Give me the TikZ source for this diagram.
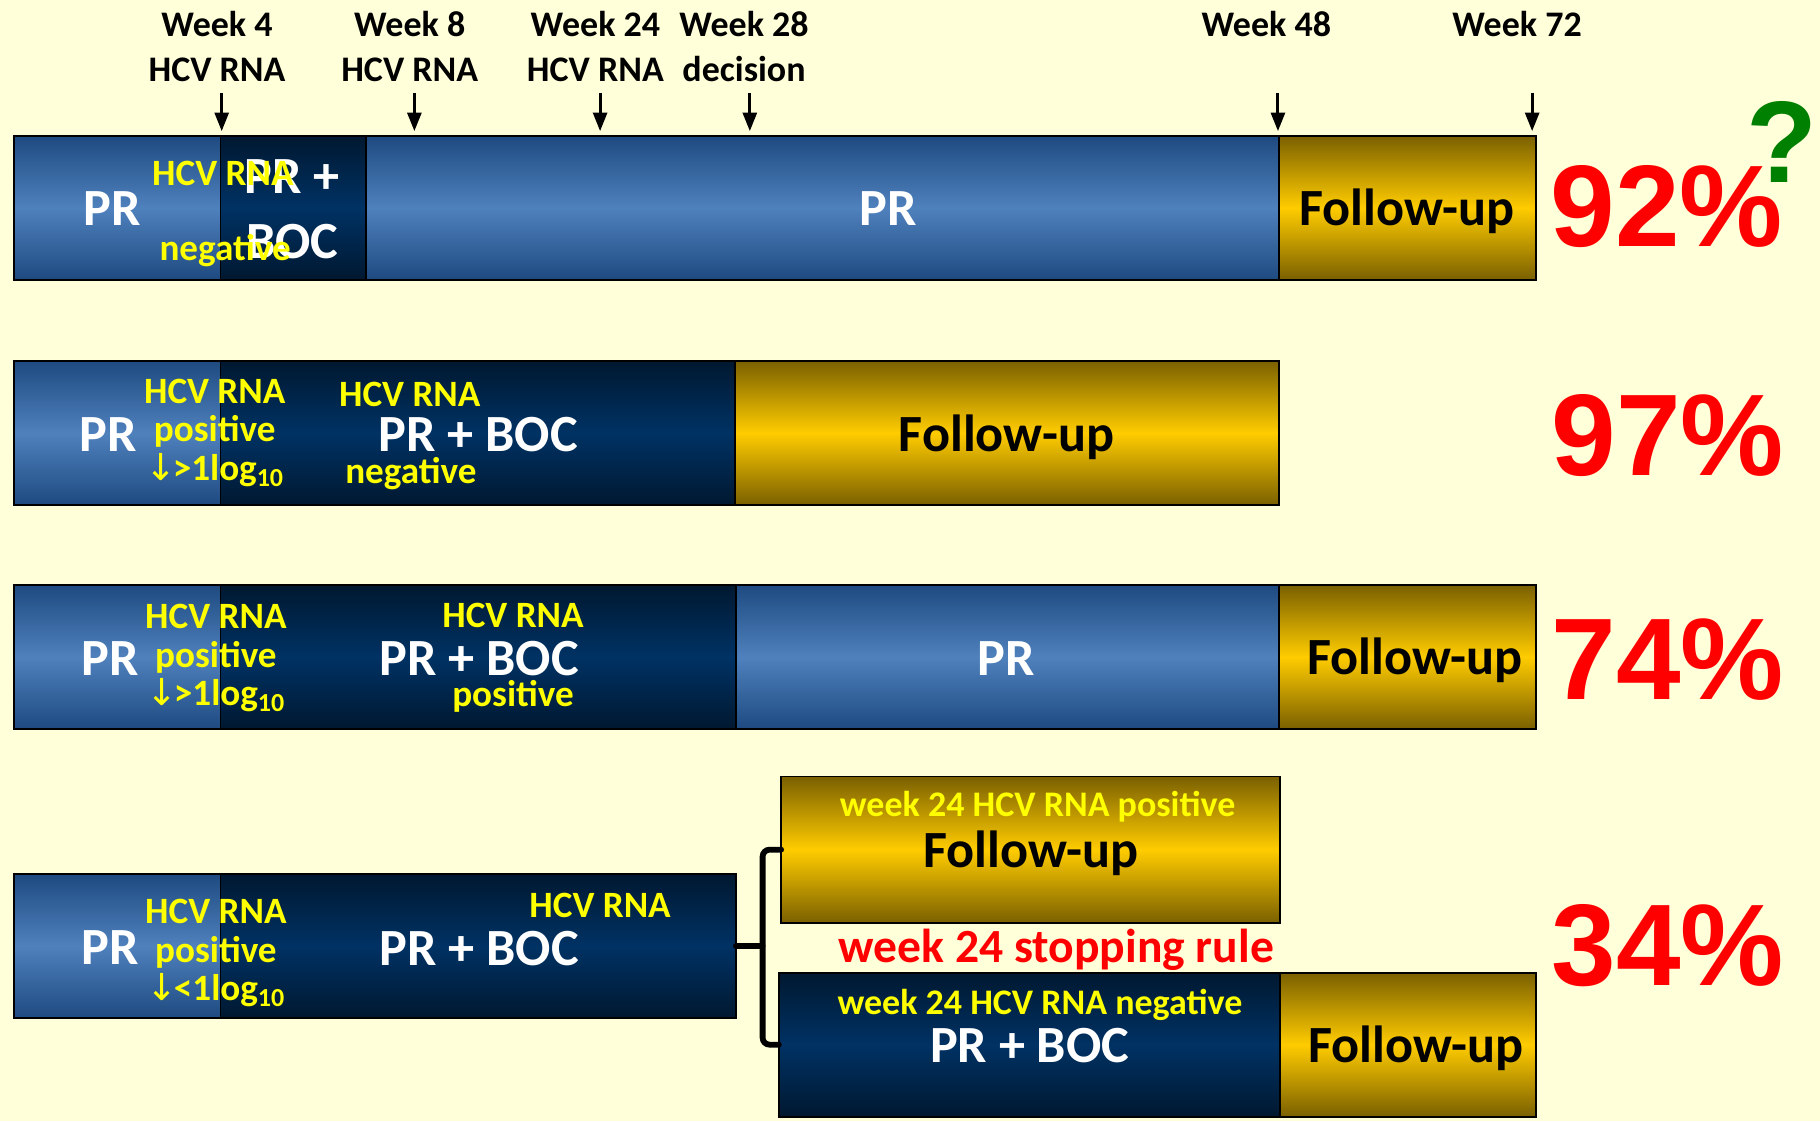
\documentclass[tikz,border=0pt]{standalone}
\usepackage{fontspec}
\setmainfont{Carlito}
\newfontfamily\pctfont{Liberation Sans}
\newfontfamily\arrfont{DejaVu Sans}
\usetikzlibrary{positioning,arrows.meta}
\definecolor{paper}{RGB}{255,255,217}
\definecolor{prtop}{RGB}{30,74,128}
\definecolor{prmid}{RGB}{79,129,189}
\definecolor{boctop}{RGB}{0,24,48}
\definecolor{bocmid}{RGB}{0,50,100}
\definecolor{futop}{RGB}{122,96,0}
\definecolor{fumid}{RGB}{255,204,0}
\definecolor{hcvyellow}{RGB}{255,255,0}
\definecolor{svrred}{RGB}{255,0,0}
\definecolor{qgreen}{RGB}{0,128,0}
\tikzset{
  seg/.style={draw=black, line width=0.8pt, minimum height=62pt, inner sep=0pt,
    outer sep=0pt, anchor=north west},
  prseg/.style={seg, top color=prtop, bottom color=prtop, middle color=prmid},
  bocseg/.style={seg, top color=boctop, bottom color=boctop, middle color=bocmid},
  fuseg/.style={seg, top color=futop, bottom color=futop, middle color=fumid},
  wk/.style={font=\fontsize{15.5}{19.2}\selectfont\bfseries, align=center, inner sep=0pt},
  big/.style={font=\fontsize{22.5}{30}\selectfont\bfseries, text=white, align=center,
    inner sep=0pt},
  bigk/.style={big, text=black},
  hcv/.style={font=\fontsize{16}{16.5}\selectfont\bfseries, text=hcvyellow, align=center,
    inner sep=0pt},
  pct/.style={font=\fontsize{50}{50}\pctfont\bfseries, text=svrred, inner sep=0pt},
  tick/.style={-{Triangle[length=8pt,width=6pt]}, line width=1.3pt},
  bracket/.style={line width=2.5pt, rounded corners=3pt, line cap=round},
}
\newcommand{\dn}{{\arrfont\mdseries ↓}\kern-1.5pt}

\begin{document}
\begin{tikzpicture}[x=0.5pt, y=-0.5pt]
  \fill[paper] (0,0) rectangle (1568,966);
  \useasboundingbox (0,0) rectangle (1568,966);

  % week marks
  \node[wk] (w4) at (187,40) {Week 4\\HCV RNA};
  \node[wk] (w8) at (353,40) {Week 8\\HCV RNA};
  \node[wk] (w24) at (513,40) {Week 24\\HCV RNA};
  \node[wk] (w28) at (641,40) {Week 28\\decision};
  \node[wk] (w48) at (1091,21) {Week 48};
  \node[wk] (w72) at (1307,21) {Week 72};
  \foreach \k/\x in {4/191,8/357,24/517,28/646,48/1101,72/1320}{
    \coordinate (k\k) at (\x,113);
    \draw[tick] (k\k) ++(0,-33) -- (k\k);
  }

  % row 1
  \node[prseg, minimum width=89pt] (r1a) at (12,117) {};
  \node[bocseg, minimum width=62.5pt, right=0pt of r1a] (r1b) {};
  \node[prseg, minimum width=393.5pt, right=0pt of r1b] (r1c) {};
  \node[fuseg, minimum width=110.5pt, right=0pt of r1c] (r1d) {};
  \node[big] at (97,180) {PR};
  \node[big, font=\fontsize{22.5}{28}\selectfont\bfseries] at (252,180) {PR +\\BOC};
  \node[hcv] at (192,149) {HCV RNA};
  \node[hcv] at (194,216) {negative};
  \node[big] at (765,180) {PR};
  \node[bigk] at (1212,182) {Follow-up};
  \node[pct] (p92) at (1436,178) {92\%};
  \node[pct, text=qgreen] (q) at (1535,122) {?};

  % row 2
  \node[prseg, minimum width=89pt] (r2a) at (12,311) {};
  \node[bocseg, minimum width=221.5pt, right=0pt of r2a] (r2b) {};
  \node[fuseg, minimum width=234.5pt, right=0pt of r2b] (r2c) {};
  \node[big] at (93,374) {PR};
  \node[hcv] at (185,373) {HCV RNA\\positive\\\dn>1log\textsubscript{10}};
  \node[hcv] at (353,340) {HCV RNA};
  \node[big] at (412,374) {PR + BOC};
  \node[hcv] at (354,408) {negative};
  \node[bigk] at (867,377) {Follow-up};
  \node[pct] (p97) at (1437,375) {97\%};

  % row 3
  \node[prseg, minimum width=89pt] (r3a) at (12,504) {};
  \node[bocseg, minimum width=222pt, right=0pt of r3a] (r3b) {};
  \node[prseg, minimum width=234pt, right=0pt of r3b] (r3c) {};
  \node[fuseg, minimum width=110.5pt, right=0pt of r3c] (r3d) {};
  \node[big] at (95,567) {PR};
  \node[hcv] at (186,567) {HCV RNA\\positive\\\dn>1log\textsubscript{10}};
  \node[hcv] at (442,530) {HCV RNA};
  \node[big] at (413,567) {PR + BOC};
  \node[hcv] at (442,600) {positive};
  \node[big] at (867,567) {PR};
  \node[bigk] at (1219,569) {Follow-up};
  \node[pct] (p74) at (1437,568) {74\%};

  % row 4
  \node[prseg, minimum width=89pt] (r4a) at (12,753) {};
  \node[bocseg, minimum width=222pt, right=0pt of r4a] (r4b) {};
  \node[fuseg, minimum width=215pt, minimum height=63pt] (r4c) at (673,669) {};
  \node[bocseg, minimum width=216pt] (r4d) at (671,838) {};
  \node[fuseg, minimum width=110pt, right=0pt of r4d] (r4e) {};
  \node[big] at (95,816) {PR};
  \node[hcv] at (186,821) {HCV RNA\\positive\\\dn<1log\textsubscript{10}};
  \node[hcv] at (517,780) {HCV RNA};
  \node[big] at (413,817) {PR + BOC};
  \node[hcv, font=\fontsize{15.5}{16}\selectfont\bfseries] at (894,695) {week 24 HCV RNA positive};
  \node[bigk] at (888,735) {Follow-up};
  \node[hcv, text=svrred, font=\fontsize{20.5}{21}\selectfont\bfseries] at (910,818) {week 24 stopping rule};
  \node[hcv, font=\fontsize{15.5}{16}\selectfont\bfseries] at (896,866) {week 24 HCV RNA negative};
  \node[big] at (887,901) {PR + BOC};
  \node[bigk] at (1220,903) {Follow-up};
  \node[pct] (p34) at (1437,815) {34\%};

  \draw[bracket] (r4b.east) -- ++(23,0);
  \draw[bracket] (r4c.west) -- ++(-16,0) |- (r4d.west);
\end{tikzpicture}
\end{document}
